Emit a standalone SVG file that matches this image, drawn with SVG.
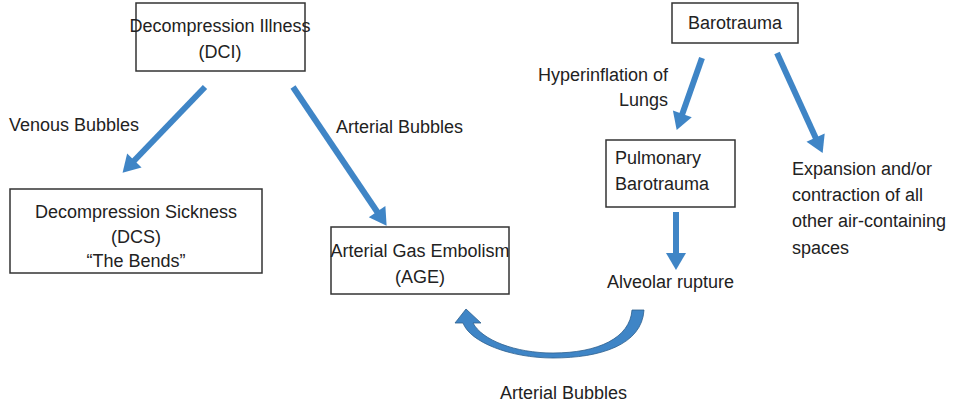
<svg xmlns="http://www.w3.org/2000/svg" width="959" height="407" viewBox="0 0 959 407">
<style>
text{font-family:"Liberation Sans",Arial,sans-serif;font-size:18px;fill:#222}
.c{text-anchor:middle}
.r{text-anchor:end}
.box{fill:#fff;stroke:#333;stroke-width:1.5}
.ar{stroke:#3f85c6;stroke-width:6;fill:none;marker-end:url(#h)}
</style>
<defs>
<marker id="h" markerUnits="userSpaceOnUse" viewBox="-1 -11 20 22" markerWidth="20" markerHeight="22" refX="7" refY="0" orient="auto">
<path d="M0,-10 L17,0 L0,10 Z" fill="#3f85c6"/>
</marker>
</defs>
<rect width="959" height="407" fill="#fff"/>
<g id="dci"><rect class="box" x="136" y="3" width="169" height="68"/><text class="c" x="220" y="32">Decompression Illness</text><text class="c" x="220" y="58">(DCI)</text></g>
<g id="dcs"><rect class="box" x="10" y="189" width="252" height="84"/><text class="c" x="136" y="218">Decompression Sickness</text><text class="c" x="136" y="243">(DCS)</text><text class="c" x="136" y="267">“The Bends”</text></g>
<g id="age"><rect class="box" x="331" y="227" width="178" height="67"/><text class="c" x="420" y="257">Arterial Gas Embolism</text><text class="c" x="420" y="283">(AGE)</text></g>
<g id="baro"><rect class="box" x="672" y="3" width="126" height="40"/><text class="c" x="735" y="29">Barotrauma</text></g>
<g id="pulm"><rect class="box" x="606" y="140" width="129" height="67"/><text x="615" y="164">Pulmonary</text><text x="615" y="190">Barotrauma</text></g>
<g id="expansion"><text x="792" y="175">Expansion and/or</text><text x="792" y="201">contraction of all</text><text x="792" y="227">other air-containing</text><text x="792" y="254">spaces</text></g>
<g id="alveolar"><text x="607" y="288">Alveolar rupture</text></g>
<g id="connectors">
<line class="ar" x1="205" y1="87" x2="129.5" y2="165.5"/>
<line class="ar" x1="293" y1="87" x2="381" y2="217.5"/>
<line class="ar" x1="702" y1="58" x2="680" y2="120.5"/>
<line class="ar" x1="777" y1="53" x2="818.5" y2="144"/>
<line class="ar" x1="676" y1="212" x2="676" y2="260"/>
<path d="M644,310 C642,345 600,358 553,358 C510,358 470,342 463,323 L455,323 L466,309 L481,323 L473,323 C482,340 515,353 553,353 C598,353 630,338 632,310 Z" fill="#3f85c6" stroke="#2d5f8e" stroke-width="0.8"/>
<text x="9" y="131">Venous Bubbles</text>
<text x="336" y="133">Arterial Bubbles</text>
<text class="r" x="668" y="81">Hyperinflation of</text>
<text class="r" x="668" y="106">Lungs</text>
<text x="500" y="399">Arterial Bubbles</text>
</g>
</svg>
